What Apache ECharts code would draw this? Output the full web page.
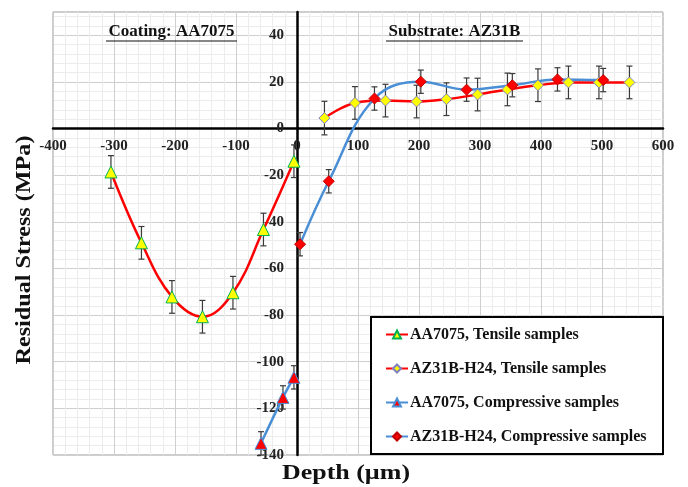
<!DOCTYPE html>
<html>
<head>
<meta charset="utf-8">
<script src="https://cdn.jsdelivr.net/npm/echarts@6/dist/echarts.min.js"></script>
<style>
  html, body { margin: 0; padding: 0; background: #fff; }
  #chart { width: 688px; height: 487px; }
</style>
</head>
<body>
<div id="chart"></div>
<script>
// depth (um) and residual stress (MPa)
const tenAAx = [-305, -255, -205, -155, -105, -55, -5];
const tenAAy = [-18.6, -49, -72.2, -80.7, -70.4, -43.3, -14];
const tenAAerr = [7, 7, 7, 7, 7, 7, 7];

const tenAZx = [45, 95, 145, 196, 245, 296, 345, 395, 445, 495, 545];
const tenAZy = [4.5, 11, 12, 11.6, 12.6, 14.6, 16.8, 18.6, 19.8, 19.8, 19.8];
const tenAZerr = [7.2, 7, 7, 7, 7, 7, 7, 7, 7, 7, 7];

const cmpAAx = [-59, -23, -5];
const cmpAAy = [-135, -115.3, -106.7];
const cmpAAerr = [5, 5, 5];

const cmpAZx = [5, 52, 127, 203, 278, 353, 427, 502];
const cmpAZy = [-49.6, -22.6, 12.9, 20.1, 16.7, 18.6, 21.1, 20.8];
const cmpAZerr = [5, 5, 5, 5, 5, 5, 5, 5];

const names = [
  'AA7075, Tensile samples',
  'AZ31B-H24, Tensile samples',
  'AA7075, Compressive samples',
  'AZ31B-H24, Compressive samples'
];

const xMin = -400, xMax = 600, xStep = 100;
const yMin = -140, yMax = 50, yStep = 20;

const RED = '#ff0000';
const BLUE = '#4a8fd6';
const FONT = 'Liberation Serif';

// plot box
const W = 688, H = 487;
const gL = 53, gT = 12, gR = 25, gB = 32;
const plotW = W - gL - gR, plotH = H - gT - gB;
// axes cross at zero, labels go with them
const yAxisShift = -(0 - xMin) / (xMax - xMin) * plotW;
const xAxisShift = -(0 - yMin) / (yMax - yMin) * plotH;

function pts(xs, ys) { return xs.map((x, i) => [x, ys[i]]); }
function errPts(xs, ys, es) { return xs.map((x, i) => [x, ys[i], es[i]]); }

function errBars(data) {
  return {
    type: 'custom',
    z: 2,
    silent: true,
    data: data,
    encode: { x: 0, y: 1 },
    renderItem: function (params, api) {
      const x = api.value(0), y = api.value(1), e = api.value(2);
      const hi = api.coord([x, y + e]);
      const lo = api.coord([x, y - e]);
      const w = 3;
      const st = { stroke: '#3a3a3a', lineWidth: 1.2 };
      return {
        type: 'group',
        children: [
          { type: 'line', shape: { x1: hi[0], y1: hi[1], x2: lo[0], y2: lo[1] }, style: st },
          { type: 'line', shape: { x1: hi[0] - w, y1: hi[1], x2: hi[0] + w, y2: hi[1] }, style: st },
          { type: 'line', shape: { x1: lo[0] - w, y1: lo[1], x2: lo[0] + w, y2: lo[1] }, style: st }
        ]
      };
    }
  };
}

function lineSeries(name, data, lineColor, symbol, size, fill, border) {
  return {
    name: name,
    type: 'line',
    z: 3,
    data: data,
    smooth: 0.4,
    symbol: symbol,
    symbolSize: size,
    showAllSymbol: true,
    lineStyle: { color: lineColor, width: 2.5 },
    itemStyle: { color: fill, borderColor: border, borderWidth: 1 },
    emphasis: { disabled: true }
  };
}

const chart = echarts.init(document.getElementById('chart'), null, { renderer: 'canvas' });

const option = {
  animation: false,
  backgroundColor: '#fff',
  grid: { left: gL, top: gT, right: gR, bottom: gB, show: true, borderColor: '#999', borderWidth: 1 },
  xAxis: {
    type: 'value',
    min: xMin, max: xMax, interval: xStep,
    offset: xAxisShift,
    axisLine: { onZero: false, lineStyle: { color: '#000', width: 2.5 } },
    axisTick: { show: false },
    axisLabel: { color: '#222', fontFamily: FONT, fontWeight: 'bold', fontSize: 15, margin: 10 },
    splitLine: { show: true, lineStyle: { color: '#cfcfcf', width: 1 } },
    minorTick: { show: false, splitNumber: 5 },
    minorSplitLine: { show: true, lineStyle: { color: '#ececec', width: 1 } }
  },
  yAxis: {
    type: 'value',
    min: yMin, max: yMax, interval: yStep,
    offset: yAxisShift,
    axisLine: { onZero: false, lineStyle: { color: '#000', width: 2.5 } },
    axisTick: { show: false },
    axisLabel: { color: '#222', fontFamily: FONT, fontWeight: 'bold', fontSize: 15, margin: 13, showMaxLabel: false },
    splitLine: { show: true, lineStyle: { color: '#cfcfcf', width: 1 } },
    minorTick: { show: false, splitNumber: 5 },
    minorSplitLine: { show: true, lineStyle: { color: '#ececec', width: 1 } }
  },
  legend: {
    orient: 'vertical',
    left: 385,
    top: 326,
    z: 20,
    itemWidth: 22,
    itemHeight: 10,
    itemGap: 17,
    padding: 0,
    selectedMode: false,
    data: names,
    textStyle: { color: '#111', fontFamily: FONT, fontWeight: 'bold', fontSize: 16, lineHeight: 17, padding: [0, 0, 0, -3] }
  },
  graphic: [
    {
      type: 'rect', z: 10,
      shape: { x: 371, y: 317, width: 292, height: 137 },
      style: { fill: '#fff', stroke: '#000', lineWidth: 2 }
    },
    {
      type: 'text', z: 10, x: 171.5, y: 32,
      style: { text: 'Coating: AA7075', fill: '#111', font: 'bold 17px "Liberation Serif"', textAlign: 'center', textVerticalAlign: 'middle' }
    },
    {
      type: 'line', z: 10,
      shape: { x1: 106, y1: 41, x2: 237, y2: 41 },
      style: { stroke: '#111', lineWidth: 1.2 }
    },
    {
      type: 'text', z: 10, x: 454.5, y: 32,
      style: { text: 'Substrate: AZ31B', fill: '#111', font: 'bold 17px "Liberation Serif"', textAlign: 'center', textVerticalAlign: 'middle' }
    },
    {
      type: 'line', z: 10,
      shape: { x1: 386, y1: 41, x2: 523, y2: 41 },
      style: { stroke: '#111', lineWidth: 1.2 }
    },
    {
      type: 'text', z: 10, x: 25, y: 250, rotation: Math.PI / 2, scaleX: 1.15,
      style: { text: 'Residual Stress (MPa)', fill: '#111', font: 'bold 21px "Liberation Serif"', textAlign: 'center', textVerticalAlign: 'middle' }
    },
    {
      type: 'text', z: 10, x: 346, y: 473, scaleX: 1.18,
      style: { text: 'Depth (\u00b5m)', fill: '#111', font: 'bold 22px "Liberation Serif"', textAlign: 'center', textVerticalAlign: 'middle' }
    }
  ],
  series: [
    errBars(errPts(tenAAx, tenAAy, tenAAerr)),
    errBars(errPts(tenAZx, tenAZy, tenAZerr)),
    errBars(errPts(cmpAAx, cmpAAy, cmpAAerr)),
    errBars(errPts(cmpAZx, cmpAZy, cmpAZerr)),
    lineSeries(names[0], pts(tenAAx, tenAAy), RED, 'triangle', 12, '#ffff00', '#00b050'),
    lineSeries(names[1], pts(tenAZx, tenAZy), RED, 'diamond', 11, '#ffff00', '#8080c0'),
    lineSeries(names[2], pts(cmpAAx, cmpAAy), BLUE, 'triangle', 12, '#ff0000', '#4a8fd6'),
    lineSeries(names[3], pts(cmpAZx, cmpAZy), BLUE, 'diamond', 11, '#ff0000', '#c00000')
  ]
};

chart.setOption(option);
</script>
</body>
</html>
